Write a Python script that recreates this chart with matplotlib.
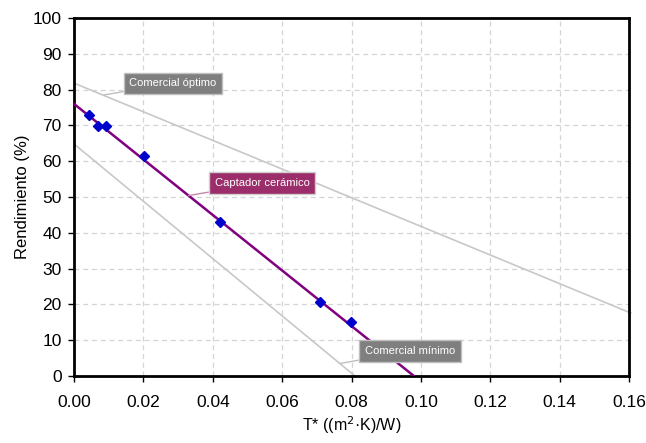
import matplotlib
matplotlib.use("Agg")
import matplotlib.pyplot as plt

plt.rcParams['font.family'] = ['Liberation Sans', 'DejaVu Sans']

# measured points (captador cerámico)
t_star = [0.0043, 0.0069, 0.0092, 0.0202, 0.0421, 0.0709, 0.0798]
rend = [72.9, 69.8, 69.8, 61.5, 43.0, 20.7, 15.1]

# straight lines: end points
opt_x = [0.0, 0.1605]
opt_y = [81.8, 17.6]
min_x = [0.0, 0.081]
min_y = [64.8, 0.0]
cer_x = [0.0, 0.098]
cer_y = [76.0, 0.0]

xticks = [0.00, 0.02, 0.04, 0.06, 0.08, 0.10, 0.12, 0.14, 0.16]
yticks = list(range(0, 101, 10))

fig = plt.figure(figsize=(6.46, 4.43), dpi=100)
ax = fig.add_axes([0.1146, 0.1512, 0.8591, 0.8082])

ax.plot(opt_x, opt_y, color='#c8c8c8', lw=1.2, clip_on=False, zorder=2)
ax.plot(min_x, min_y, color='#c8c8c8', lw=1.2, zorder=2)
ax.plot(cer_x, cer_y, color='#800080', lw=1.8, zorder=3)
ax.plot(t_star, rend, 'D', color='#0000cc', ms=5, zorder=4)

ax.set_xlim(0, 0.16)
ax.set_ylim(0, 100)
ax.set_xticks(xticks)
ax.set_xticklabels([f"{v:.2f}" for v in xticks])
ax.set_yticks(yticks)
ax.tick_params(labelsize=12.5, direction='out', length=4, width=1)
ax.tick_params(axis='x', pad=10)
ax.tick_params(axis='y', pad=5)
ax.grid(True, ls=(0, (4, 3)), color='#d4d4d4', lw=0.9)
for s in ax.spines.values():
    s.set_linewidth(2)

ax.set_xlabel("T* ((m$^2$·K)/W)", fontsize=11.5, labelpad=3)
ax.set_ylabel("Rendimiento (%)", fontsize=12, labelpad=2)

box_grey = dict(boxstyle='square,pad=0.5', fc='#7f7f7f', ec='#bfbfbf', lw=1)
box_purple = dict(boxstyle='square,pad=0.5', fc='#9b2d6a', ec='#cfcfcf', lw=1)

ax.annotate("Comercial óptimo", xy=(0.0086, 78.5), xytext=(0.0285, 81.8),
            fontsize=8, color='white', ha='center', va='center', bbox=box_grey,
            arrowprops=dict(arrowstyle='-', color='#bfbfbf', lw=1, shrinkA=0, shrinkB=0))
ax.annotate("Captador cerámico", xy=(0.033, 50.4), xytext=(0.0542, 53.9),
            fontsize=8, color='white', ha='center', va='center', bbox=box_purple,
            arrowprops=dict(arrowstyle='-', color='#c48aa8', lw=1, shrinkA=0, shrinkB=0))
ax.annotate("Comercial mínimo", xy=(0.0767, 3.5), xytext=(0.0969, 7.0),
            fontsize=8, color='white', ha='center', va='center', bbox=box_grey,
            arrowprops=dict(arrowstyle='-', color='#bfbfbf', lw=1, shrinkA=0, shrinkB=0))

fig.savefig("out.png", dpi=100)
